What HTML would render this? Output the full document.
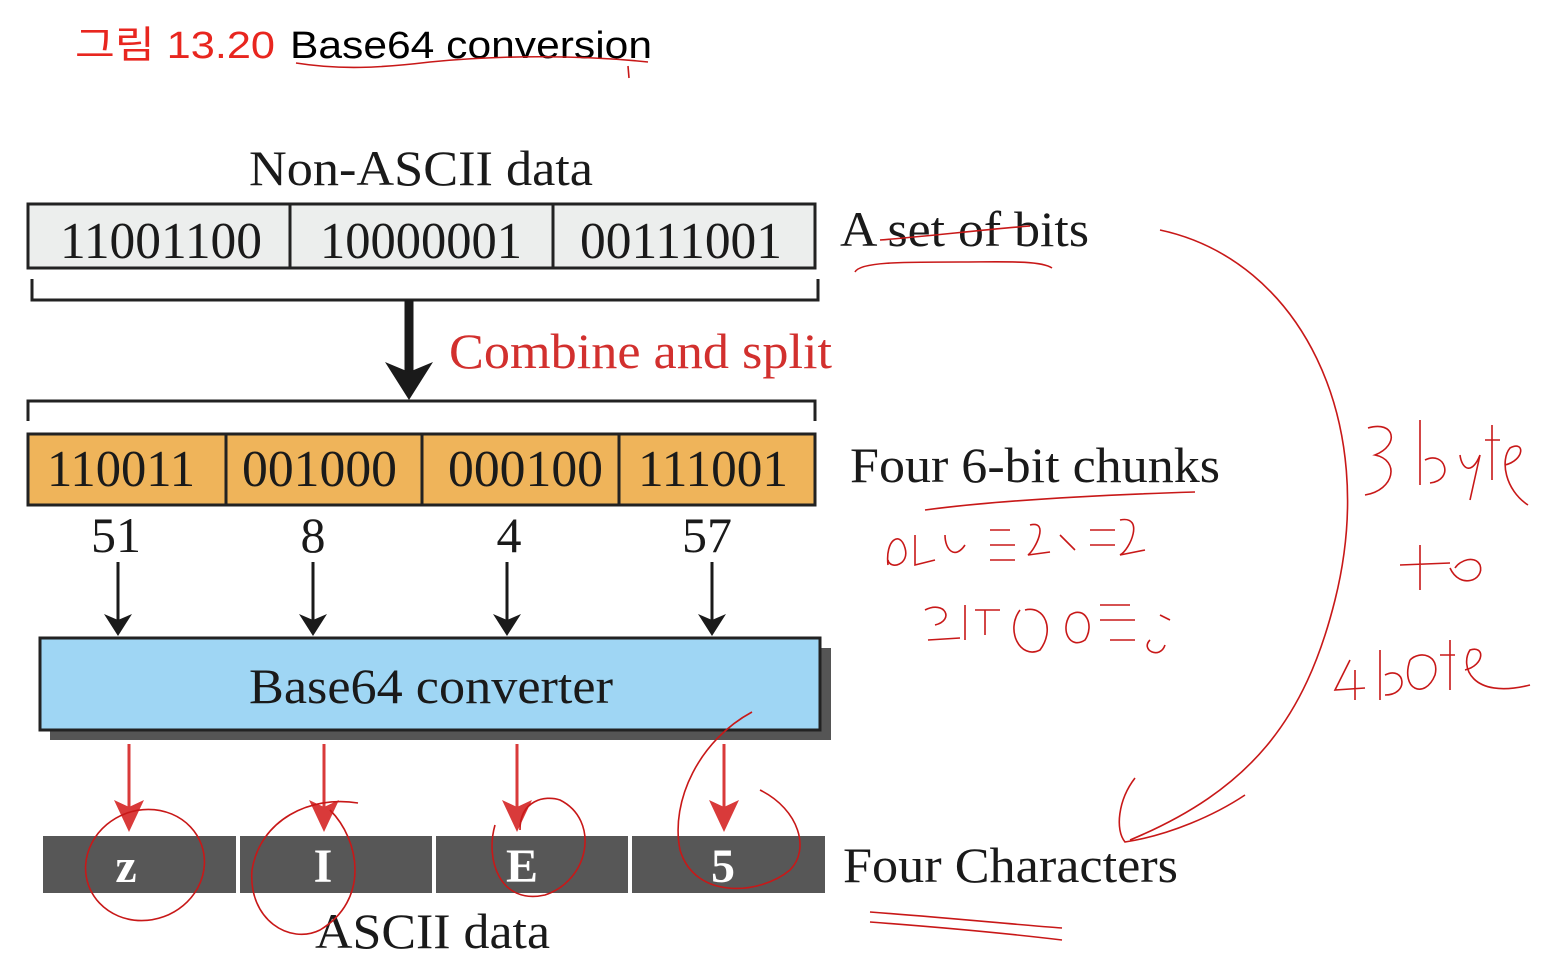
<!DOCTYPE html>
<html><head><meta charset="utf-8"><style>
html,body{margin:0;padding:0;background:#fff;}
svg{display:block;}
.s{font-family:"Liberation Serif",serif;}
</style></head><body>
<svg width="1562" height="976" viewBox="0 0 1562 976" xmlns="http://www.w3.org/2000/svg">
<!-- title -->
<text x="75" y="58" font-family="Liberation Sans,'Noto Sans CJK KR',sans-serif" font-size="38" fill="#e8261f" textLength="200" lengthAdjust="spacingAndGlyphs">그림 13.20</text>
<text x="290" y="58" font-family="Liberation Sans,sans-serif" font-size="38" fill="#000" textLength="362" lengthAdjust="spacingAndGlyphs">Base64 conversion</text>
<path d="M296 63 C340 70 380 68 430 62 C500 55 580 55 648 62 M628 66 L629 78" stroke="#c81818" stroke-width="1.6" fill="none"/>

<g class="s" fill="#1a1a1a">
<text x="249" y="185" font-size="50" textLength="344" lengthAdjust="spacingAndGlyphs">Non-ASCII data</text>
</g>
<!-- top row -->
<rect x="28" y="204" width="787" height="64" fill="#eceeed" stroke="#222" stroke-width="3"/>
<line x1="290" y1="204" x2="290" y2="268" stroke="#222" stroke-width="3"/>
<line x1="553" y1="204" x2="553" y2="268" stroke="#222" stroke-width="3"/>
<g class="s" fill="#1a1a1a" font-size="52">
<text x="60" y="258" textLength="202" lengthAdjust="spacingAndGlyphs">11001100</text>
<text x="320" y="258" textLength="202" lengthAdjust="spacingAndGlyphs">10000001</text>
<text x="580" y="258" textLength="202" lengthAdjust="spacingAndGlyphs">00111001</text>
</g>
<path d="M32 279 V300 H818 V279" stroke="#222" stroke-width="3" fill="none"/>
<line x1="409" y1="300" x2="409" y2="372" stroke="#1a1a1a" stroke-width="9"/>
<polygon points="385,362 409,372 433,362 409,400" fill="#1a1a1a"/>
<text class="s" x="449" y="368" font-size="50" fill="#d2302e" textLength="383" lengthAdjust="spacingAndGlyphs">Combine and split</text>
<path d="M28 421 V401 H815 V421" stroke="#222" stroke-width="3" fill="none"/>

<!-- orange row -->
<rect x="28" y="434" width="787" height="71" fill="#efb45a" stroke="#222" stroke-width="3"/>
<line x1="226" y1="434" x2="226" y2="505" stroke="#222" stroke-width="3"/>
<line x1="422" y1="434" x2="422" y2="505" stroke="#222" stroke-width="3"/>
<line x1="619" y1="434" x2="619" y2="505" stroke="#222" stroke-width="3"/>
<g class="s" fill="#1a1a1a" font-size="52">
<text x="47" y="486" textLength="148" lengthAdjust="spacingAndGlyphs">110011</text>
<text x="242" y="486" textLength="155" lengthAdjust="spacingAndGlyphs">001000</text>
<text x="448" y="486" textLength="155" lengthAdjust="spacingAndGlyphs">000100</text>
<text x="638" y="486" textLength="150" lengthAdjust="spacingAndGlyphs">111001</text>
</g>
<g class="s" fill="#1a1a1a" font-size="50" text-anchor="middle">
<text x="116" y="552">51</text>
<text x="313" y="552">8</text>
<text x="509" y="552">4</text>
<text x="707" y="552">57</text>
</g>
<g stroke="#1a1a1a" stroke-width="3">
<line x1="118" y1="562" x2="118" y2="625"/><line x1="313" y1="562" x2="313" y2="625"/>
<line x1="507" y1="562" x2="507" y2="625"/><line x1="712" y1="562" x2="712" y2="625"/>
</g>
<g fill="#1a1a1a">
<polygon points="104,614 118,620 132,614 118,636"/>
<polygon points="299,614 313,620 327,614 313,636"/>
<polygon points="493,614 507,620 521,614 507,636"/>
<polygon points="698,614 712,620 726,614 712,636"/>
</g>

<!-- converter -->
<rect x="50" y="648" width="781" height="92" fill="#555"/>
<rect x="40" y="638" width="780" height="92" fill="#9fd6f4" stroke="#222" stroke-width="3"/>
<text class="s" x="249" y="703" font-size="50" fill="#1a1a1a" textLength="364" lengthAdjust="spacingAndGlyphs">Base64 converter</text>

<!-- red arrows -->
<g stroke="#d93a3a" stroke-width="3">
<line x1="129" y1="744" x2="129" y2="810"/><line x1="324" y1="744" x2="324" y2="810"/>
<line x1="517" y1="744" x2="517" y2="810"/><line x1="724" y1="744" x2="724" y2="810"/>
</g>
<g fill="#d93a3a">
<polygon points="114,800 129,807 144,800 129,832"/>
<polygon points="309,800 324,807 339,800 324,832"/>
<polygon points="502,800 517,807 532,800 517,832"/>
<polygon points="709,800 724,807 739,800 724,832"/>
</g>

<!-- ascii boxes -->
<g fill="#575757">
<rect x="43" y="836" width="193" height="57"/><rect x="240" y="836" width="192" height="57"/>
<rect x="436" y="836" width="192" height="57"/><rect x="632" y="836" width="193" height="57"/>
</g>
<g class="s" fill="#fff" font-size="48" font-weight="bold" text-anchor="middle">
<text x="126" y="882">z</text><text x="323" y="882">I</text>
<text x="522" y="882">E</text><text x="723" y="882">5</text>
</g>
<text class="s" x="315" y="948" font-size="50" fill="#1a1a1a" textLength="235" lengthAdjust="spacingAndGlyphs">ASCII data</text>

<!-- right labels -->
<g class="s" fill="#1a1a1a" font-size="50">
<text x="840" y="246" textLength="249" lengthAdjust="spacingAndGlyphs">A set of bits</text>
<text x="850" y="482" textLength="370" lengthAdjust="spacingAndGlyphs">Four 6-bit chunks</text>
<text x="843" y="882" textLength="335" lengthAdjust="spacingAndGlyphs">Four Characters</text>
</g>

<!-- handwritten annotations -->
<g stroke="#c81818" stroke-width="1.6" fill="none">
<path d="M855 272 C860 262 900 262 960 262 C1000 262 1040 260 1052 268"/>
<path d="M880 240 C930 236 980 230 1030 226"/>
<path d="M925 510 C1000 500 1100 495 1195 492"/>
<path d="M870 912 C950 918 1020 925 1062 928 M870 922 C950 928 1020 935 1062 940"/>
<ellipse cx="145" cy="865" rx="60" ry="55" transform="rotate(-20 145 865)"/>
<path d="M358 803 C310 795 260 820 252 870 C248 920 290 945 320 930 C370 900 360 840 330 810"/>
<path d="M520 830 C520 800 545 795 560 800 C600 820 590 880 545 895 C500 905 485 860 495 825"/>
<path d="M752 712 C700 740 670 800 680 850 C695 900 760 895 790 870 C810 850 800 810 760 790"/>
<path d="M1160 230 C1300 260 1380 420 1335 600 C1305 720 1250 790 1130 840 M1135 778 C1118 800 1115 830 1125 842 C1170 835 1215 815 1245 795"/>
<path d="M888 565 C885 540 900 530 905 548 C910 565 890 570 888 560 M915 535 L915 565 L935 560 M945 535 C945 550 955 560 965 545 M990 530 L1010 530 M990 545 L1015 545 M990 560 L1015 560 M1030 525 C1050 520 1035 550 1028 555 L1050 552 M1060 535 L1075 550 M1090 530 L1115 530 M1090 545 L1115 545 M1120 520 C1145 515 1130 550 1120 555 L1145 550"/>
<path d="M925 610 C945 600 955 620 935 625 M928 640 L960 638 M965 605 L965 640 M975 610 L1000 610 M985 610 L985 635 M1020 610 C1005 630 1020 660 1040 650 C1055 630 1045 605 1025 610 M1070 615 C1060 630 1070 650 1085 640 C1095 625 1085 605 1070 615 M1100 605 L1130 605 M1100 620 L1135 620 M1110 640 L1135 640 M1150 640 C1140 650 1160 660 1165 645 M1160 615 L1170 620"/>
<path d="M1368 428 C1395 420 1400 445 1375 455 C1400 460 1395 490 1365 495"/>
<path d="M1420 420 L1420 485 M1425 460 C1445 450 1455 480 1430 483 M1460 455 C1462 470 1472 475 1480 455 L1470 500 M1485 440 L1500 440 M1492 425 L1492 480 M1505 465 C1525 460 1525 440 1510 448 C1500 460 1505 490 1528 505"/>
<path d="M1400 565 L1450 563 M1420 545 L1420 590 M1450 568 C1460 590 1485 580 1480 565 C1475 555 1460 560 1455 568"/>
<path d="M1350 660 L1335 690 L1365 688 M1355 670 L1355 700 M1380 650 L1380 700 M1385 675 C1405 665 1410 695 1385 695 M1410 660 C1400 690 1425 700 1435 675 C1440 655 1420 650 1410 660 M1440 655 L1455 655 M1450 640 L1450 690 M1465 670 C1485 665 1485 645 1470 650 C1460 665 1470 700 1530 685"/>
</g>
</svg>
</body></html>
